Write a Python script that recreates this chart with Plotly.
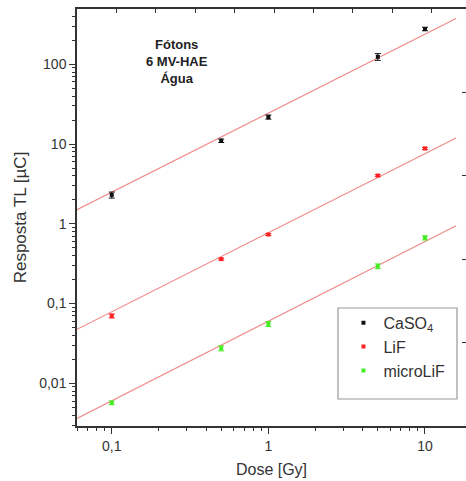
import plotly.graph_objects as go
import numpy as np

dose = [0.1, 0.5, 1, 5, 10]
caso4 = [2.3, 11.0, 21.8, 124, 277]
caso4_err = [0.2, 0.55, 1.3, 12, 14]
lif = [0.070, 0.361, 0.734, 4.03, 8.8]
lif_err = [0.004, 0.01, 0.02, 0.1, 0.3]
micro = [0.0057, 0.0275, 0.0555, 0.294, 0.667]
micro_err = [0.0003, 0.002, 0.004, 0.02, 0.04]

# power-law fits  y = a * D^b
fit_a = [24.4, 0.773, 0.0603]
fit_b = [0.99, 0.991, 0.998]
fit_range = [0.06, 15.8]

names = ["CaSO<sub>4</sub>", "LiF", "microLiF"]
colors = ["#111111", "#ff2020", "#44ee22"]
series = [caso4, lif, micro]
errs = [caso4_err, lif_err, micro_err]

xticks = [0.1, 1, 10]
xticktext = ["0,1", "1", "10"]
yticks = [0.01, 0.1, 1, 10, 100]
yticktext = ["0,01", "0,1", "1", "10", "100"]

fig = go.Figure()
xf = np.logspace(np.log10(fit_range[0]), np.log10(fit_range[1]), 50)
for a, b in zip(fit_a, fit_b):
    fig.add_trace(go.Scatter(x=xf, y=a * xf ** b, mode="lines",
                             line=dict(color="#f08a8a", width=1.2),
                             showlegend=False, hoverinfo="skip"))
for n, c, s, e in zip(names, colors, series, errs):
    fig.add_trace(go.Scatter(x=dose, y=s, mode="markers", name=n,
                             marker=dict(color=c, size=4, symbol="square"),
                             error_y=dict(type="data", array=e, color=c,
                                          thickness=1, width=3)))

minor_x = [m * 10 ** k for k in (-2, -1, 0, 1) for m in range(2, 10)]
minor_y = [m * 10 ** k for k in range(-3, 3) for m in range(2, 10)]

fig.update_layout(
    width=466, height=481,
    margin=dict(l=77, r=0, t=9, b=55),
    plot_bgcolor="white", paper_bgcolor="white",
    font=dict(family="Liberation Sans, Arial, sans-serif", color="#333333", size=14),
    xaxis=dict(type="log", range=[np.log10(0.06), 1.262],
               tickvals=xticks, ticktext=xticktext, ticks="outside", ticklen=6,
               tickcolor="#333", showline=True, linecolor="#333", linewidth=1.5,
               showgrid=False, zeroline=False,
               minor=dict(tickvals=minor_x, ticks="outside", ticklen=3, tickcolor="#333", showgrid=False),
               title=dict(text="Dose [Gy]", font=dict(size=16), standoff=11),
               tickfont=dict(size=14)),
    yaxis=dict(type="log", range=[-2.535, 2.693],
               tickvals=yticks, ticktext=yticktext, ticks="outside", ticklen=6,
               tickcolor="#333", showline=True, linecolor="#333", linewidth=1.5,
               showgrid=False, zeroline=False,
               minor=dict(tickvals=minor_y, ticks="outside", ticklen=3, tickcolor="#333", showgrid=False),
               title=dict(text="Resposta TL [µC]", font=dict(size=17), standoff=8),
               tickfont=dict(size=14)),
    xaxis2=dict(overlaying="x", side="top", range=[0, 9.87], dtick=1, tick0=0,
                ticks="inside", ticklen=4, tickcolor="#333", showticklabels=False,
                showline=True, linecolor="#333", linewidth=1.5, showgrid=False, zeroline=False),
    yaxis2=dict(overlaying="y", side="right", range=[0, 1], dtick=0.2,
                ticks="inside", ticklen=4, tickcolor="#333", showticklabels=False,
                showline=False, showgrid=False, zeroline=False),
    legend=dict(x=0.685, y=0.288, xanchor="left", yanchor="top",
                bgcolor="rgba(0,0,0,0)", borderwidth=0,
                font=dict(size=16, color="#333"), tracegroupgap=0),
    shapes=[dict(type="rect", xref="paper", yref="paper",
                 x0=(338 - 77) / 389, x1=(457 - 77) / 389,
                 y0=(426 - 399) / 417, y1=(426 - 308) / 417,
                 line=dict(color="#999999", width=1.2))],
    annotations=[dict(text="<b>Fótons</b><br><b>6 MV-HAE</b><br><b>Água</b>",
                      x=(177 - 77) / 389, y=(426 - 62) / 417, xref="paper", yref="paper",
                      xanchor="center", yanchor="middle",
                      showarrow=False, font=dict(size=13, color="#222"), align="center")],
)
# dummy trace to activate the overlay axes
fig.add_trace(go.Scatter(x=[None], y=[None], xaxis="x2", yaxis="y2", showlegend=False))

fig.write_html("out.html")
